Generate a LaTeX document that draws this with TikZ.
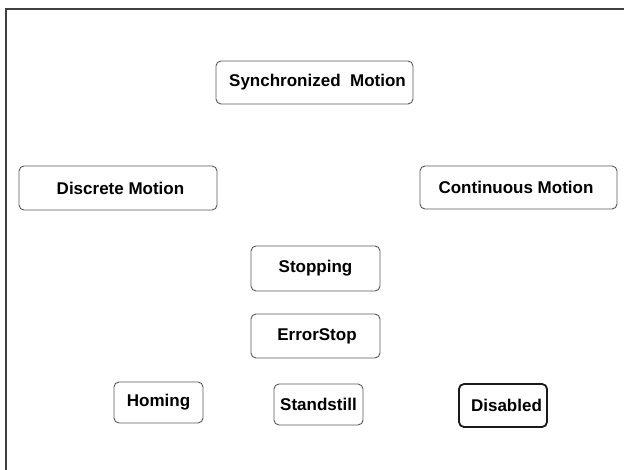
\documentclass[tikz,border=0pt]{standalone}
\usepackage{fontspec}
\newfontfamily\statefont{Liberation Sans}
\definecolor{boxgray}{HTML}{5A5A5A}
\definecolor{framegray}{HTML}{404040}
\begin{document}
\begin{tikzpicture}[x=1pt,y=-1pt,
  statebox/.style={draw=boxgray, line width=0.9pt, rounded corners=5pt, fill=white,
    inner sep=0pt, align=center, text=black,
    font=\statefont\bfseries\fontsize{17}{20}\selectfont},
  strongbox/.style={statebox, draw=black!90, line width=1.8pt},
  framestyle/.style={draw=framegray, line width=1.5pt}]
\useasboundingbox (0,0) rectangle (624,470);
\draw[framestyle] (6,470) -- (6,9) -- (624,9);

\node[statebox, minimum width=197pt, minimum height=43pt] (sync) at (314.5,82.5) {\hspace{6pt}Synchronized\ \ Motion};
\node[statebox, minimum width=198pt, minimum height=44pt] (discrete) at (118,188) {\hspace{5pt}Discrete Motion};
\node[statebox, minimum width=197pt, minimum height=43pt] (continuous) at (518.5,187.5) {Continuous Motion\hspace{5pt}};
\node[statebox, minimum width=129pt, minimum height=45pt] (stopping) at (315.5,268.5) {Stopping};
\node[statebox, minimum width=129pt, minimum height=44pt] (errorstop) at (315.5,336) {\hspace{3pt}ErrorStop};
\node[statebox, minimum width=89pt, minimum height=41pt] (homing) at (158.5,402.5) {Homing};
\node[statebox, minimum width=89pt, minimum height=41pt] (standstill) at (318.5,404.5) {Standstill};
\node[strongbox, minimum width=88pt, minimum height=43pt] (disabled) at (503,405.5) {\hspace{7pt}\raisebox{-2.5pt}{Disabled}};
\end{tikzpicture}
\end{document}
